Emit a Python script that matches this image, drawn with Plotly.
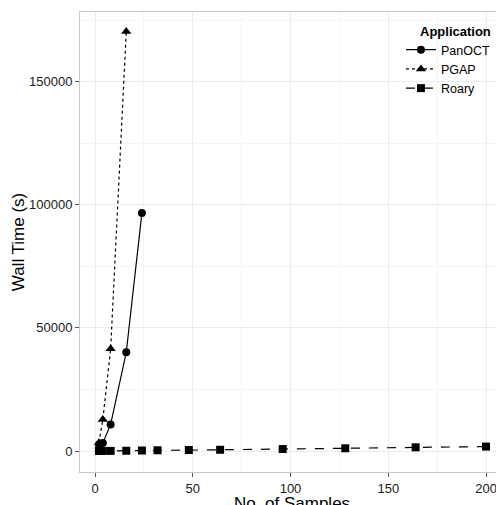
import plotly.graph_objects as go

panoct_x = [2, 4, 8, 16, 24]
panoct_y = [2500, 3200, 10800, 40100, 96700]

pgap_x = [2, 4, 8, 16]
pgap_y = [3400, 12800, 41500, 170400]

roary_x = [2, 4, 8, 16, 24, 32, 48, 64, 96, 128, 164, 200]
roary_y = [10, 20, 50, 100, 200, 300, 400, 500, 800, 1100, 1500, 1800]

x_ticks = [0, 50, 100, 150, 200]
y_ticks = [0, 50000, 100000, 150000]

FONT = "Liberation Sans, Arial, sans-serif"

fig = go.Figure()
fig.add_trace(go.Scatter(x=panoct_x, y=panoct_y, name="PanOCT", mode="lines+markers",
                         line=dict(color="black", width=1.2, dash="solid"),
                         marker=dict(symbol="circle", size=8, color="black")))
fig.add_trace(go.Scatter(x=pgap_x, y=pgap_y, name="PGAP", mode="lines+markers",
                         line=dict(color="black", width=1.2, dash="dot"),
                         marker=dict(symbol="triangle-up", size=9, color="black")))
fig.add_trace(go.Scatter(x=roary_x, y=roary_y, name="Roary", mode="lines+markers",
                         line=dict(color="black", width=1.2, dash="dash"),
                         marker=dict(symbol="square", size=8, color="black")))

axis_common = dict(
    showline=True, mirror=True, linecolor="#c8c8c8", linewidth=1,
    ticks="outside", ticklen=4, tickcolor="#555555", tickwidth=1,
    showgrid=True, gridcolor="#ebebeb", gridwidth=1, zeroline=False,
    automargin=False,
    tickfont=dict(family=FONT, size=13, color="#1a1a1a"),
)

fig.update_xaxes(
    **axis_common,
    range=[-7.67, 209.2],
    tickvals=x_ticks, ticktext=[str(v) for v in x_ticks],
    minor=dict(dtick=25, tick0=25, showgrid=True, gridcolor="#f5f5f5", gridwidth=0.8, ticks=""),
    title=dict(text="No. of Samples", standoff=7,
               font=dict(family=FONT, size=17, color="black")),
)
fig.update_yaxes(
    **axis_common,
    range=[-8530, 178300],
    tickvals=y_ticks, ticktext=[str(v) for v in y_ticks],
    minor=dict(dtick=25000, tick0=25000, showgrid=True, gridcolor="#f5f5f5", gridwidth=0.8, ticks=""),
    title=dict(text="Wall Time (s)", standoff=0,
               font=dict(family=FONT, size=17, color="black")),
)

fig.add_annotation(
    text="<b>Application</b>", xref="paper", yref="paper",
    x=(410 - 72) / 424, y=1 - (24 - 4) / 460, xanchor="left", yanchor="middle",
    showarrow=False, font=dict(family=FONT, size=13, color="black"),
)

fig.update_layout(
    width=504, height=505,
    margin=dict(l=72, r=8, t=4, b=41, autoexpand=False),
    paper_bgcolor="white", plot_bgcolor="white",
    font=dict(family=FONT, color="black"),
    legend=dict(
        x=0.757, y=0.95, xanchor="left", yanchor="top",
        bgcolor="rgba(255,255,255,0)", font=dict(size=12.5),
        itemwidth=30, tracegroupgap=0,
    ),
)

fig.write_html("out.html")
